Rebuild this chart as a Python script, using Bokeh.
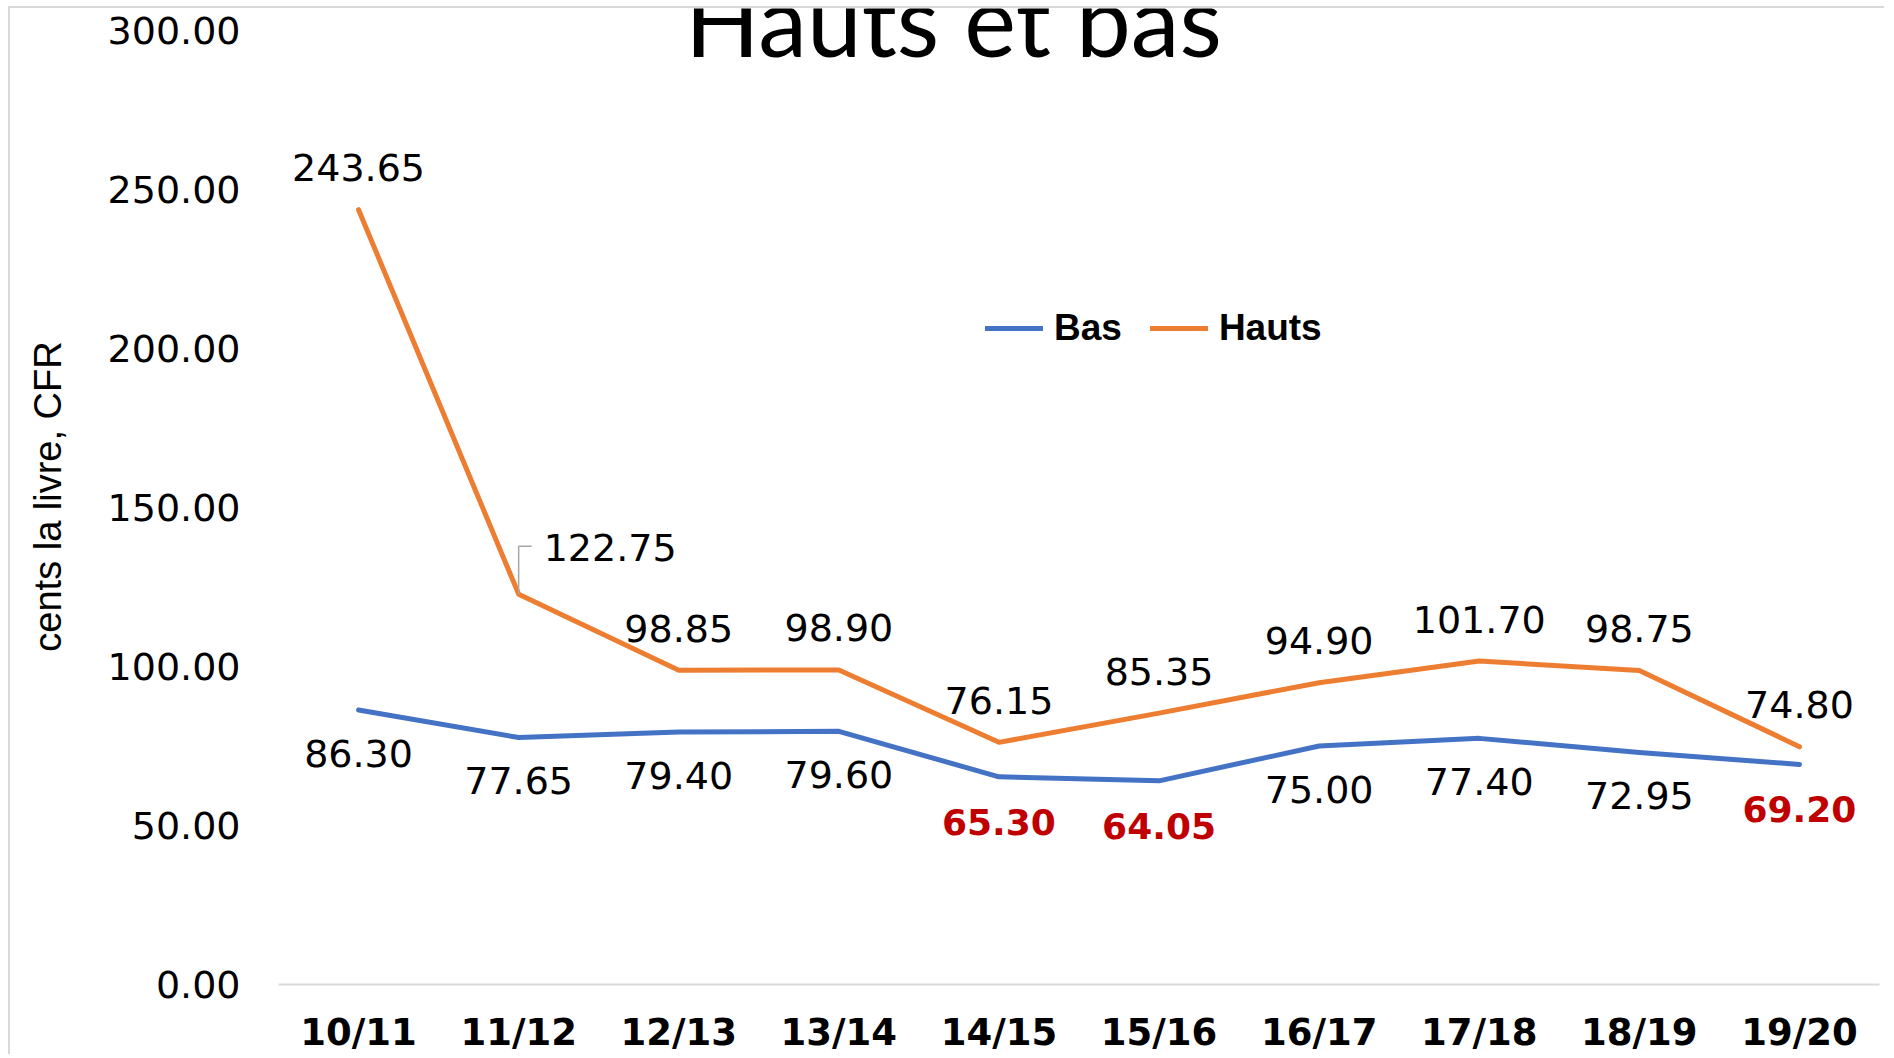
from bokeh.plotting import figure
from bokeh.models import (ColumnDataSource, Range1d, FixedTicker, PrintfTickFormatter,
                          LabelSet, Label, Legend, LegendItem)
from bokeh.core.properties import value
from bokeh.embed import file_html
from bokeh.resources import INLINE

# ---------------- data ----------------
categories = ["10/11", "11/12", "12/13", "13/14", "14/15", "15/16", "16/17", "17/18", "18/19", "19/20"]
bas = [86.30, 77.65, 79.40, 79.60, 65.30, 64.05, 75.00, 77.40, 72.95, 69.20]
hauts = [243.65, 122.75, 98.85, 98.90, 76.15, 85.35, 94.90, 101.70, 98.75, 74.80]
bas_highlight = [False, False, False, False, True, True, False, False, False, True]
hauts_callout = [False, True, False, False, False, False, False, False, False, False]
y_ticks = [0, 50, 100, 150, 200, 250, 300]
title_text = "Hauts et bas"
y_title = "cents la livre, CFR"

# ---------------- geometry ----------------
W, H = 1876, 1048
MB_LEFT, MB_RIGHT, MB_TOP, MB_BOTTOM = 268, 7, 0, 72
frame_w = W - MB_LEFT - MB_RIGHT
frame_h = H - MB_TOP - MB_BOTTOM
TOP_GAP = 22
Y_END = 300 + TOP_GAP * 300 / (frame_h - TOP_GAP)
x_per_px = 10 / frame_w
y_per_px = Y_END / frame_h

BLUE = "#4472C4"
ORANGE = "#ED7D31"
RED = "#C00000"

p = figure(width=W, height=H, output_backend="svg", toolbar_location=None, title=None,
           x_range=Range1d(-0.5, 9.5), y_range=Range1d(0, Y_END),
           min_border_left=MB_LEFT, min_border_right=MB_RIGHT,
           min_border_top=MB_TOP, min_border_bottom=MB_BOTTOM,
           background_fill_color="white", border_fill_color="white")
p.styles = {"border-left": "2px solid #d9d9d9", "border-top": "2px solid #d9d9d9",
            "margin-left": "8px", "margin-top": "6px"}
p.outline_line_color = None
p.xgrid.visible = False
p.ygrid.visible = False

xs = list(range(len(categories)))

# lines
r_bas = p.line(xs, bas, line_color=BLUE, line_width=5, line_cap="round", line_join="round")
r_hauts = p.line(xs, hauts, line_color=ORANGE, line_width=5, line_cap="round", line_join="round")

# axes
p.xaxis.ticker = FixedTicker(ticks=xs)
p.xaxis.major_label_overrides = {i: c for i, c in enumerate(categories)}
p.xaxis.axis_line_color = "#d9d9d9"
p.xaxis.axis_line_width = 2
p.xaxis.major_tick_line_color = None
p.xaxis.minor_tick_line_color = None
p.xaxis.major_tick_out = 0
p.xaxis.major_label_standoff = 26
p.xaxis.major_label_text_font = "DejaVu Sans"
p.xaxis.major_label_text_font_style = "bold"
p.xaxis.major_label_text_font_size = "37px"
p.xaxis.major_label_text_color = "black"

p.yaxis.ticker = FixedTicker(ticks=y_ticks)
p.yaxis.formatter = PrintfTickFormatter(format="%.2f")
p.yaxis.axis_line_color = None
p.yaxis.major_tick_line_color = None
p.yaxis.minor_tick_line_color = None
p.yaxis.major_tick_out = 0
p.yaxis.major_label_standoff = 38
p.yaxis.major_label_text_font = "DejaVu Sans"
p.yaxis.major_label_text_font_size = "38px"
p.yaxis.major_label_text_color = "black"
p.yaxis.axis_label = y_title
p.yaxis.axis_label_text_font = "Liberation Sans"
p.yaxis.axis_label_text_font_style = "normal"
p.yaxis.axis_label_text_font_size = "38px"
p.yaxis.axis_label_text_color = "black"
p.yaxis.axis_label_standoff = 36

# data labels
def src(xsel, vals):
    return ColumnDataSource(dict(x=[xs[i] for i in xsel], y=[vals[i] for i in xsel],
                                 t=["%.2f" % vals[i] for i in xsel]))

h_main = [i for i in xs if not hauts_callout[i]]
h_call = [i for i in xs if hauts_callout[i]]
b_black = [i for i in xs if not bas_highlight[i]]
b_red = [i for i in xs if bas_highlight[i]]

common = dict(x="x", y="y", text="t", text_font=value("DejaVu Sans"), text_baseline="middle")
p.add_layout(LabelSet(source=src(h_main, hauts), y_offset=42, text_align="center",
                      text_font_size="38px", text_color="black", **common))
p.add_layout(LabelSet(source=src(h_call, hauts), y_offset=47, x_offset=25, text_align="left",
                      text_font_size="38px", text_color="black", **common))
p.add_layout(LabelSet(source=src(b_black, bas), y_offset=-43, text_align="center",
                      text_font_size="38px", text_color="black", **common))
p.add_layout(LabelSet(source=src(b_red, bas), y_offset=-45, text_align="center",
                      text_font_size="36px", text_font_style="bold", text_color=RED, **common))

# callout leader line for the offset label
for i in h_call:
    x0 = xs[i]
    y0 = hauts[i]
    y1 = y0 + 48 * y_per_px
    x1 = x0 + 13 * x_per_px
    p.line([x0, x0, x1], [y0, y1, y1], line_color="#a6a6a6", line_width=1.5)

# title (partially cut at top like the reference)
p.add_layout(Label(x=-0.5 + (953 - 278) * x_per_px, y=966 * y_per_px,
                   text=title_text, text_font="Lato", text_font_size="98px",
                   text_align="center", text_baseline="alphabetic", text_color="black"))

# legend
legend = Legend(items=[LegendItem(label="Bas", renderers=[r_bas]),
                       LegendItem(label="Hauts", renderers=[r_hauts])],
                orientation="horizontal", location=(707, 635),
                padding=0, margin=0, spacing=28, glyph_width=58, glyph_height=40,
                label_height=40, label_standoff=11,
                label_text_font="Liberation Sans", label_text_font_style="bold",
                label_text_font_size="37px", label_text_color="black",
                background_fill_alpha=0, border_line_alpha=0)
p.add_layout(legend)

open("out.html", "w").write(file_html(p, INLINE))
